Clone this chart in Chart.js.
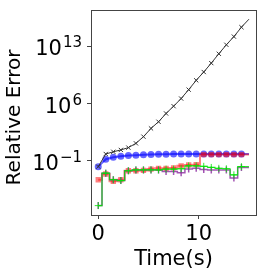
<!DOCTYPE html>
<html>
<head>
<meta charset="utf-8">
<script src="https://cdn.jsdelivr.net/npm/chart.js@4"></script>
<style>
  html, body { margin: 0; padding: 0; background: #fff; }
  #wrap { width: 266px; height: 279px; }
</style>
</head>
<body>
<div id="wrap"><canvas id="errChart"></canvas></div>
<script>
// time samples (s)
var times = [0, 0.75, 1.5, 2.25, 3, 3.75, 4.5, 5.25, 6, 6.75, 7.5,
             8.25, 9, 9.75, 10.5, 11.25, 12, 12.75, 13.5, 14.25, 15];

// relative error per method
var blackErr = [2e-2, 0.7, 1.3, 2.2, 4.2, 14, 91, 930, 6.0e3, 6.2e4, 4.8e5,
                4.1e6, 5.0e7, 6.9e8, 7.1e9, 8.7e10, 1.2e12, 1.5e13, 1.5e14, 2.1e15, 2.0e16];
var blueErr = [2e-2, 0.16, 0.28, 0.37, 0.45, 0.5, 0.55, 0.6, 0.63, 0.66, 0.68,
               0.68, 0.69, 0.7, 0.7, 0.7, 0.7, 0.7, 0.7, 0.7, 0.7];
var redErr = [5e-4, 2.5e-3, 3.2e-4, 5e-4, 6.3e-3, 6.3e-3, 7e-3, 1e-2, 1.25e-2, 1.25e-2, 1.4e-2,
              2.5e-2, 3.2e-2, 3.5e-2, 0.59, 0.59, 0.59, 0.59, 0.59, 0.59, 0.59];
var greenErr = [3.5e-7, 3.2e-3, 5e-4, 4e-4, 6.3e-3, 8e-3, 8e-3, 8e-3, 8e-3, 1e-2, 1e-2,
                1.1e-2, 2.5e-2, 2.5e-2, 2.2e-2, 1.6e-2, 1.25e-2, 1.1e-2, 2e-3, 2e-2, 2e-2];
var purpleErr = [3.5e-7, 3.2e-3, 5e-4, 4e-4, 6.3e-3, 8e-3, 8e-3, 8e-3, 8e-3, 5e-3, 5e-3,
                 3.6e-3, 1e-2, 1.25e-2, 9e-3, 8e-3, 8e-3, 8e-3, 8e-4, 1.6e-2, 1.6e-2];

var xTicks = [0, 10];
var yTickValues = [1e-1, 1e6, 1e13];
var yTickExps = ['\u22121', '6', '13'];
var yTitle = 'Relative Error';

function toPoints(arr) {
    return arr.map(function(v, i) { return { x: times[i], y: v }; });
}

// last sample has no marker
function markerRadius(r) {
    return function(ctx) { return ctx.dataIndex === times.length - 1 ? 0 : r; };
}

// frame, y tick labels with superscripts, y title
var decor = {
    id: 'decor',
    afterDraw: function(chart) {
        var a = chart.chartArea, c = chart.ctx, ys = chart.scales.y;
        c.save();
        c.strokeStyle = '#444';
        c.lineWidth = 1;
        c.strokeRect(Math.round(a.left) + 0.5, Math.round(a.top) + 0.5,
                     Math.round(a.right - a.left), Math.round(a.bottom - a.top));

        c.fillStyle = '#000';
        c.textAlign = 'left';
        c.textBaseline = 'alphabetic';
        yTickValues.forEach(function(v, i) {
            var py = ys.getPixelForValue(v);
            c.font = '15px "DejaVu Sans"';
            var we = c.measureText(yTickExps[i]).width;
            c.font = '21px "DejaVu Sans"';
            var wb = c.measureText('10').width;
            var right = a.left - 9;
            c.fillText('10', right - we - wb - 1, py + 9);
            c.font = '15px "DejaVu Sans"';
            c.fillText(yTickExps[i], right - we, py + 1);
        });

        c.translate(14.5, 117.5);
        c.rotate(-Math.PI / 2);
        c.font = '20px "DejaVu Sans"';
        c.textAlign = 'center';
        c.textBaseline = 'middle';
        c.fillText(yTitle, 0, 0);
        c.restore();
    }
};

var ctx = document.getElementById('errChart').getContext('2d');
var chart = new Chart(ctx, {
    type: 'line',
    data: {
        datasets: [{
            data: toPoints(blackErr),
            borderColor: '#333',
            borderWidth: 1,
            pointStyle: 'crossRot',
            pointRadius: markerRadius(3),
            pointBorderColor: '#333',
            pointBorderWidth: 1,
            tension: 0
        }, {
            data: toPoints(greenErr),
            borderColor: 'rgba(0, 230, 0, 0.8)',
            borderWidth: 1.2,
            stepped: 'middle',
            pointStyle: 'cross',
            pointRadius: markerRadius(3.5),
            pointBorderColor: 'rgba(0, 230, 0, 0.8)',
            pointBorderWidth: 1
        }, {
            data: toPoints(purpleErr),
            borderColor: 'rgba(140, 40, 160, 0.8)',
            borderWidth: 1.5,
            stepped: 'middle',
            pointStyle: 'line',
            rotation: 90,
            pointRadius: markerRadius(3.5),
            pointBorderColor: 'rgba(140, 40, 160, 0.8)',
            pointBorderWidth: 1.5
        }, {
            data: toPoints(redErr),
            borderColor: 'rgba(255, 0, 0, 0.5)',
            borderWidth: 2,
            stepped: 'middle',
            pointStyle: 'rect',
            pointRadius: markerRadius(3.8),
            backgroundColor: 'rgba(255, 0, 0, 0.5)',
            pointBackgroundColor: 'rgba(255, 0, 0, 0.5)',
            pointBorderColor: 'rgba(255, 0, 0, 0.0)',
            pointBorderWidth: 0
        }, {
            data: toPoints(blueErr),
            borderColor: 'rgba(0, 0, 255, 0.6)',
            borderWidth: 2,
            pointStyle: 'circle',
            pointRadius: markerRadius(3.5),
            pointBackgroundColor: 'rgba(0, 0, 255, 0.6)',
            pointBorderColor: 'rgba(0, 0, 255, 0.0)',
            pointBorderWidth: 0,
            tension: 0
        }]
    },
    options: {
        responsive: true,
        maintainAspectRatio: false,
        animation: false,
        devicePixelRatio: 1,
        layout: { padding: { top: 9, right: 10, left: 0, bottom: 0 } },
        plugins: {
            legend: { display: false },
            tooltip: { enabled: false }
        },
        scales: {
            x: {
                type: 'linear',
                min: -0.72,
                max: 15.7,
                afterBuildTicks: function(s) {
                    s.ticks = xTicks.map(function(v) { return { value: v }; });
                },
                afterFit: function(s) { s.height = 64; },
                ticks: {
                    font: { family: 'DejaVu Sans', size: 21 },
                    color: '#000',
                    padding: 3,
                    maxRotation: 0
                },
                grid: { drawOnChartArea: false, tickLength: 4, color: '#444' },
                border: { display: false },
                title: {
                    display: true,
                    text: 'Time(s)',
                    font: { family: 'DejaVu Sans', size: 21 },
                    color: '#000',
                    padding: { top: 0, bottom: 7 }
                }
            },
            y: {
                type: 'logarithmic',
                min: 2.5e-8,
                max: 2.5e17,
                afterBuildTicks: function(s) {
                    s.ticks = yTickValues.map(function(v) { return { value: v }; });
                },
                afterFit: function(s) { s.width = 91; },
                ticks: {
                    callback: function() { return ''; }
                },
                grid: { drawOnChartArea: false, tickLength: 4, color: '#444' },
                border: { display: false }
            }
        }
    },
    plugins: [decor]
});
</script>
</body>
</html>
